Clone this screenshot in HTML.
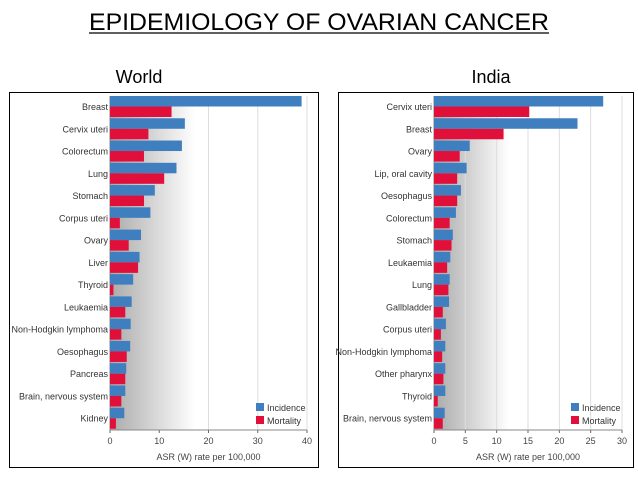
<!DOCTYPE html>
<html><head><meta charset="utf-8">
<style>
body{margin:0;background:#fff;width:638px;height:479px;overflow:hidden;font-family:"Liberation Sans",sans-serif}
svg{position:absolute;left:0;top:0}
</style></head>
<body>
<svg id="s" width="638" height="479">
<defs>
<linearGradient id="gL" x1="0" x2="1" y1="0" y2="0"><stop offset="0" stop-color="#aaa"/><stop offset="1" stop-color="#fff"/></linearGradient>
</defs>
<text x="319" y="30" text-anchor="middle" font-size="24.5" fill="#000" textLength="460" lengthAdjust="spacingAndGlyphs">EPIDEMIOLOGY OF OVARIAN CANCER</text>
<line x1="89" y1="33" x2="549" y2="33" stroke="#000" stroke-width="1.2"/>
<text x="139" y="83" text-anchor="middle" font-size="18">World</text>
<text x="491" y="83" text-anchor="middle" font-size="18">India</text>
</svg>
<script>
const worldCats=["Breast","Cervix uteri","Colorectum","Lung","Stomach","Corpus uteri","Ovary","Liver","Thyroid","Leukaemia","Non-Hodgkin lymphoma","Oesophagus","Pancreas","Brain, nervous system","Kidney"];
const worldInc=[38.9,15.2,14.6,13.5,9.1,8.2,6.3,6.0,4.7,4.4,4.2,4.1,3.3,3.1,2.9];
const worldMort=[12.5,7.8,6.9,11.0,6.9,2.0,3.8,5.7,0.7,3.1,2.3,3.4,3.1,2.3,1.2];
const worldTicks=[0,10,20,30,40];
const indiaCats=["Cervix uteri","Breast","Ovary","Lip, oral cavity","Oesophagus","Colorectum","Stomach","Leukaemia","Lung","Gallbladder","Corpus uteri","Non-Hodgkin lymphoma","Other pharynx","Thyroid","Brain, nervous system"];
const indiaInc=[27.0,22.9,5.7,5.2,4.3,3.5,3.0,2.6,2.5,2.4,1.9,1.8,1.8,1.8,1.7];
const indiaMort=[15.2,11.1,4.1,3.7,3.7,2.5,2.8,2.1,2.3,1.4,1.1,1.3,1.5,0.6,1.4];
const indiaTicks=[0,5,10,15,20,25,30];
const svg=document.getElementById('s');
const NS='http://www.w3.org/2000/svg';
function mk(t,a,p){const e=document.createElementNS(NS,t);for(const k in a)e.setAttribute(k,a[k]);(p||svg).appendChild(e);return e;}
function panel(id,box,x0,x1,max,cats,inc,mort,ticks,gradW){
  const g=mk('g',{});
  
  
  mk('rect',{x:box[0],y:box[1],width:box[2],height:box[3],fill:'#fff',stroke:'#000','stroke-width':1},g);
  const top=96,bot=430;
  const xs=v=>x0+(x1-x0)*v/max;
  mk('rect',{x:x0,y:top,width:gradW,height:bot-top,fill:'url(#gL)'},g);
  ticks.forEach(t=>{
    if(t>0){mk('line',{x1:xs(t),x2:xs(t),y1:top,y2:bot,stroke:'#ddd','stroke-width':1},g);}
    const tx=mk('text',{x:xs(t),y:444,'text-anchor':'middle','font-size':9,fill:'#444'},g);tx.textContent=t;
    
    
    mk('line',{x1:xs(t),x2:xs(t),y1:bot,y2:bot+3,stroke:'#666'},g);
  });
  mk('line',{x1:x0,x2:x1,y1:bot,y2:bot,stroke:'#888'},g);
  mk('line',{x1:x0,x2:x0,y1:top,y2:bot,stroke:'#888'},g);
  const band=(bot-top)/cats.length;
  cats.forEach((c,i)=>{
    const y=top+i*band;
    const r1=mk('rect',{x:x0,y:y,width:xs(inc[i])-x0,height:10.5,fill:'#3f7fbf'},g);
    
    
    const r2=mk('rect',{x:x0,y:y+10.5,width:xs(mort[i])-x0,height:10.5,fill:'#e0103a'},g);
    
    
    const t=mk('text',{x:x0-2,y:y+14,'text-anchor':'end','font-size':9,fill:'#333'},g);t.textContent=c;
    
    
  });
  const at=mk('text',{x:(x0+x1)/2,y:460,'text-anchor':'middle','font-size':9,fill:'#444'},g);at.textContent='ASR (W) rate per 100,000';
  
  
  const lx=x1-51;
  mk('rect',{x:lx,y:403,width:8,height:8,fill:'#3f7fbf'},g);
  mk('rect',{x:lx,y:416,width:8,height:8,fill:'#e0103a'},g);
  const l1=mk('text',{x:lx+11,y:411,'font-size':9,fill:'#333'},g);l1.textContent='Incidence';
  
  
  const l2=mk('text',{x:lx+11,y:424,'font-size':9,fill:'#333'},g);l2.textContent='Mortality';
  
  
}
panel('world',[9.5,92.5,309,375],110,307,40,worldCats,worldInc,worldMort,worldTicks,85);
panel('india',[338.5,92.5,295,375],434,622,30,indiaCats,indiaInc,indiaMort,indiaTicks,75);
</script>
</body></html>
